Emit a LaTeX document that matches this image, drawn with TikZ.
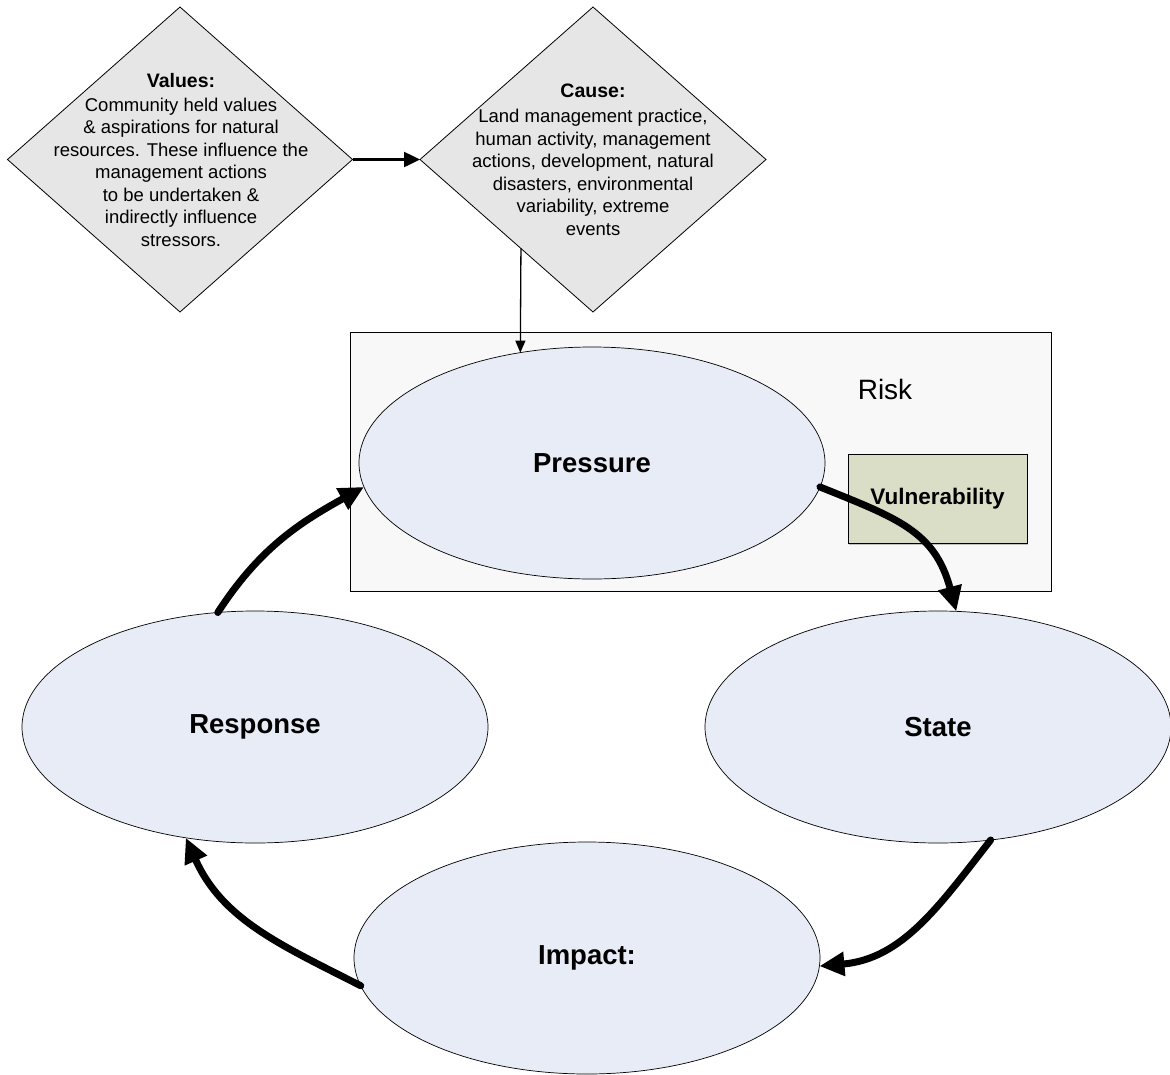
\documentclass[tikz,border=0pt]{standalone}
\usepackage{fontspec}
\setmainfont{Liberation Sans}
\usetikzlibrary{shapes.geometric,arrows.meta,shadows}

\definecolor{decisionfill}{RGB}{230,230,230}
\definecolor{stagefill}{RGB}{232,236,246}
\definecolor{riskfill}{RGB}{248,248,248}
\definecolor{vulnfill}{RGB}{219,222,199}

\begin{document}
\begin{tikzpicture}[x=1pt,y=1pt,
  decision/.style={diamond, draw, line width=0.8pt, fill=decisionfill,
    minimum width=345pt, minimum height=305pt, inner sep=0pt, outer sep=0pt},
  decisiontext/.style={align=center, inner sep=0pt,
    font=\fontsize{18.5}{22.5}\selectfont},
  stage/.style={ellipse, draw, line width=0.7pt, fill=stagefill,
    minimum width=466pt, minimum height=232pt, inner sep=0pt, outer sep=0pt,
    font=\bfseries\fontsize{27.5}{33}\selectfont},
  loopflow/.style={line width=7pt, line cap=round,
    -{Triangle[length=25pt,width=23pt]}},
  feeds/.style={line width=2.5pt, -{Triangle[length=16pt,width=15pt]}},
  drives/.style={line width=1.3pt, -{Triangle[length=12pt,width=10pt]}}
]
\useasboundingbox (0,0) rectangle (1170,-1074);

% top row: values and causes
\node[decision] (valuesd) at (180,-159.5) {};
\node[decisiontext] (valuest) at (181,-160)
  {{\bfseries\fontsize{19.5}{22.5}\selectfont Values:}\\[1.5pt]
   Community held values\\
   \& aspirations for natural\\
   resources. These influence the\\
   management actions\\
   to be undertaken \&\\
   indirectly influence\\
   stressors.};

\node[decision, minimum width=346pt] (caused) at (593,-159.5) {};
\node[decisiontext] (causet) at (593,-160)
  {{\bfseries\fontsize{19.5}{22.5}\selectfont Cause:}\\[2.5pt]
   Land management practice,\\
   human activity, management\\
   actions, development, natural\\
   disasters, environmental\\
   variability, extreme\\
   events};

\draw[feeds] (valuesd.east) -- (caused.west);

% risk frame
\node[draw, line width=1pt, fill=riskfill, minimum width=701pt,
  minimum height=259pt, inner sep=0pt, outer sep=0pt] (riskbox) at (700.5,-461.5) {};
\node[font=\fontsize{28}{33}\selectfont] (risklabel) at (885,-389) {Risk};

% cycle stages
\node[stage] (pressure) at (592,-463) {Pressure};
\node[stage] (state) at (938,-727) {State};
\node[stage] (response) at (255,-727) {Response};
\node[stage] (impact) at (587,-958) {Impact:};

\node[draw, line width=0.8pt, fill=vulnfill, minimum width=179pt,
  minimum height=89pt, inner sep=0pt,
  drop shadow={shadow xshift=0.5pt, shadow yshift=-2pt, opacity=0.45},
  font=\bfseries\fontsize{22.5}{27}\selectfont] (vuln) at (937.5,-498.5) {Vulnerability};

% connectors
\draw[drives] (caused.231) -- (pressure.123);
\draw[loopflow] (pressure.-6) to[out=-22,in=105,looseness=1.15] (state.81);
\draw[loopflow] (state.-65) to[out=232,in=5] (impact.-2);
\draw[loopflow] (impact.187) to[out=153,in=-66] (response.238);
\draw[loopflow] (response.108) to[out=57,in=-151] (pressure.186);
\end{tikzpicture}
\end{document}
